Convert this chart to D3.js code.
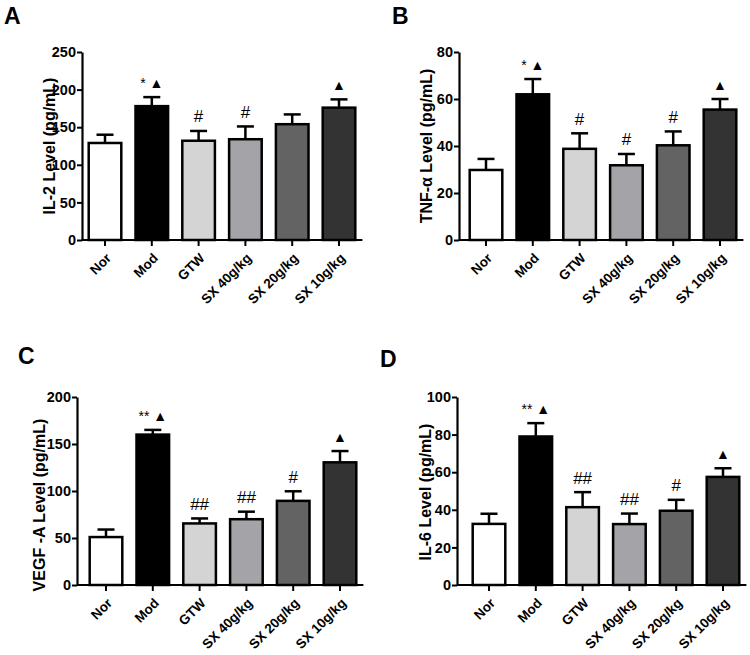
<!DOCTYPE html>
<html>
<head>
<meta charset="utf-8">
<script src="https://cdn.jsdelivr.net/npm/d3@7/dist/d3.min.js"></script>
<style>
  html, body { margin: 0; padding: 0; background: #ffffff; }
  svg { display: block; }
</style>
</head>
<body>
<svg id="chart" width="750" height="655"></svg>
<script>
// ---------- data ----------
const categories = ["Nor", "Mod", "GTW", "SX 40g/kg", "SX 20g/kg", "SX 10g/kg"];
const barColors = ["#ffffff", "#000000", "#d4d4d4", "#a3a3a8", "#636363", "#333333"];

const il2Means = [129, 178, 132, 134, 154, 176];
const il2Errors = [11, 12, 13, 17, 13, 11];
const il2Marks = ["", "* ▲", "#", "#", "", "▲"];
const il2Ticks = [0, 50, 100, 150, 200, 250];

const tnfMeans = [29.8, 62, 38.8, 31.8, 40.3, 55.5];
const tnfErrors = [4.7, 6.5, 6.6, 4.8, 5.9, 4.5];
const tnfMarks = ["", "* ▲", "#", "#", "#", "▲"];
const tnfTicks = [0, 20, 40, 60, 80];

const vegfMeans = [51, 160, 65.5, 70, 89.5, 130.5];
const vegfErrors = [8, 5, 5.3, 8, 10.2, 12];
const vegfMarks = ["", "** ▲", "##", "##", "#", "▲"];
const vegfTicks = [0, 50, 100, 150, 200];

const il6Means = [32.5, 79, 41.4, 32.4, 39.5, 57.5];
const il6Errors = [5.4, 7.1, 8, 5.6, 5.8, 4.6];
const il6Marks = ["", "** ▲", "##", "##", "#", "▲"];
const il6Ticks = [0, 20, 40, 60, 80, 100];

// ---------- layout ----------
const panels = [
  { letter: "A", lx: 4, ly: 24, title: "IL-2 Level (pg/mL)", means: il2Means, errs: il2Errors, marks: il2Marks, ticks: il2Ticks,
    axisX: 82, band: [81.6, 362.4], yRange: [240, 52], titleX: 55, titleY: 146 },
  { letter: "B", lx: 392, ly: 24, title: "TNF-α  Level (pg/mL)", means: tnfMeans, errs: tnfErrors, marks: tnfMarks, ticks: tnfTicks,
    axisX: 459, band: [462.6, 743.4], yRange: [240, 52], titleX: 432, titleY: 146 },
  { letter: "C", lx: 18, ly: 364, title: "VEGF -A  Level (pg/mL)", means: vegfMeans, errs: vegfErrors, marks: vegfMarks, ticks: vegfTicks,
    axisX: 77, band: [82.6, 363.4], yRange: [585, 397], titleX: 45, titleY: 505 },
  { letter: "D", lx: 380, ly: 367, title: "IL-6 Level (pg/mL)", means: il6Means, errs: il6Errors, marks: il6Marks, ticks: il6Ticks,
    axisX: 457, band: [465.6, 746.4], yRange: [585, 397], titleX: 431, titleY: 492 }
];

const svg = d3.select("#chart");
const FONT = "Arial, 'Liberation Sans', Helvetica, sans-serif";

panels.forEach(p => {
  const g = svg.append("g");
  const x = d3.scaleBand().domain(categories).range(p.band).paddingInner(0.25).paddingOuter(0.125);
  const y = d3.scaleLinear().domain([0, d3.max(p.ticks)]).range(p.yRange);
  const bw = x.bandwidth();
  const y0 = y(0);

  // panel letter
  g.append("text").attr("x", p.lx).attr("y", p.ly)
    .attr("font-family", FONT).attr("font-weight", "bold").attr("font-size", 23)
    .attr("fill", "#000").text(p.letter);

  const idx = d3.range(categories.length);
  // error bars
  g.selectAll(".err").data(idx).join("line")
    .attr("x1", i => x(categories[i]) + bw / 2).attr("x2", i => x(categories[i]) + bw / 2)
    .attr("y1", i => y(p.means[i])).attr("y2", i => y(p.means[i] + p.errs[i]))
    .attr("stroke", "#000").attr("stroke-width", 2.5);
  g.selectAll(".cap").data(idx).join("line")
    .attr("x1", i => x(categories[i]) + bw / 2 - 8.5).attr("x2", i => x(categories[i]) + bw / 2 + 8.5)
    .attr("y1", i => y(p.means[i] + p.errs[i])).attr("y2", i => y(p.means[i] + p.errs[i]))
    .attr("stroke", "#000").attr("stroke-width", 2.5);

  // bars
  g.selectAll(".bar").data(idx).join("rect")
    .attr("x", i => x(categories[i]) + 1.25)
    .attr("width", bw - 2.5)
    .attr("y", i => y(p.means[i]))
    .attr("height", i => y0 - y(p.means[i]))
    .attr("fill", i => barColors[i])
    .attr("stroke", "#000").attr("stroke-width", 2.5);

  // annotations
  g.selectAll(".mark").data(idx.filter(i => p.marks[i] !== "")).join("text")
    .attr("x", i => x(categories[i]) + bw / 2)
    .attr("y", i => y(p.means[i] + p.errs[i]) - 13)
    .attr("dominant-baseline", "middle")
    .attr("text-anchor", "middle")
    .attr("font-family", FONT)
    .attr("font-size", i => p.marks[i].includes("#") ? 17 : 14)
    .attr("fill", "#000")
    .text(i => p.marks[i]);

  // y axis
  const yAxis = g.append("g").attr("transform", `translate(${p.axisX},0)`)
    .call(d3.axisLeft(y).tickValues(p.ticks).tickSize(5).tickSizeOuter(0).tickPadding(1).tickFormat(d3.format("d")));
  yAxis.select(".domain").attr("stroke", "#000").attr("stroke-width", 2.2);
  yAxis.selectAll(".tick line").attr("stroke", "#000").attr("stroke-width", 2);
  yAxis.selectAll(".tick text").attr("font-family", FONT).attr("font-weight", "bold")
    .attr("font-size", 14.5).attr("fill", "#000");

  // x axis
  const xAxis = g.append("g").attr("transform", `translate(0,${y0})`)
    .call(d3.axisBottom(x).tickSize(6).tickSizeOuter(0));
  xAxis.select(".domain").attr("d", `M${p.axisX},0H${p.band[1]}`)
    .attr("stroke", "#000").attr("stroke-width", 2.2);
  xAxis.selectAll(".tick line").attr("stroke", "#000").attr("stroke-width", 2);
  xAxis.selectAll(".tick text")
    .attr("font-family", FONT).attr("font-weight", "bold").attr("font-size", 13.5).attr("fill", "#000")
    .attr("text-anchor", "end")
    .attr("dy", null).attr("y", null)
    .attr("transform", "translate(7,19) rotate(-45)");

  // y title
  g.append("text")
    .attr("transform", `translate(${p.titleX},${p.titleY}) rotate(-90)`)
    .attr("text-anchor", "middle")
    .attr("font-family", FONT).attr("font-weight", "bold").attr("font-size", 16)
    .attr("fill", "#000")
    .text(p.title);
});
</script>
</body>
</html>
